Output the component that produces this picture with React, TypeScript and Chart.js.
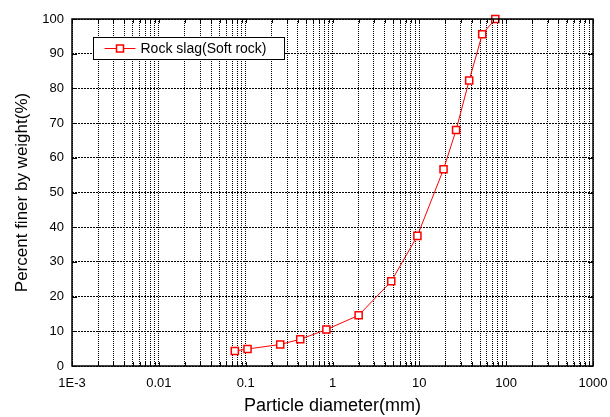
import React, { useEffect, useRef } from 'react';
import { Chart, registerables } from 'chart.js';

Chart.register(...registerables);

const diameters = [0.075, 0.105, 0.25, 0.425, 0.85, 2, 4.75, 9.5, 19, 26.5, 37.5, 53, 75];
const percents = [4.3, 4.9, 6.2, 7.7, 10.5, 14.6, 24.4, 37.5, 56.7, 68.0, 82.3, 95.6, 100];
const xMajorTicks = [0.001, 0.01, 0.1, 1, 10, 100, 1000];
const xTickLabels = ['1E-3', '0.01', '0.1', '1', '10', '100', '1000'];
const yMin = 0;
const yMax = 100;
const yStep = 10;
const seriesLabel = 'Rock slag(Soft rock)';
const xTitle = 'Particle diameter(mm)';
const yTitle = 'Percent finer by weight(%)';

const FONT = '"Liberation Sans", Arial, sans-serif';

const framePlugin = {
  id: 'frameAndLegend',
  afterDraw(chart: any) {
    const { ctx, chartArea: a, scales } = chart;
    ctx.save();
    ctx.setLineDash([]);
    ctx.strokeStyle = '#000';
    ctx.lineWidth = 1;
    ctx.beginPath();
    scales.x.ticks.forEach((t: any) => {
      const px = Math.round(scales.x.getPixelForValue(t.value)) + 0.5;
      ctx.moveTo(px, a.bottom);
      ctx.lineTo(px, a.bottom - 4);
      ctx.moveTo(px, a.top);
      ctx.lineTo(px, a.top + 4);
    });
    scales.y.ticks.forEach((t: any) => {
      const py = Math.round(scales.y.getPixelForValue(t.value)) + 0.5;
      ctx.moveTo(a.left, py);
      ctx.lineTo(a.left + 5, py);
      ctx.moveTo(a.right, py);
      ctx.lineTo(a.right - 5, py);
    });
    ctx.stroke();

    ctx.lineWidth = 1.5;
    ctx.strokeRect(a.left, a.top, a.right - a.left, a.bottom - a.top);

    // legend box inside plot
    const ds = chart.data.datasets[0];
    const bx = a.left + 21.5;
    const by = a.top + 18.5;
    const bw = 191;
    const bh = 22;
    ctx.fillStyle = '#fff';
    ctx.fillRect(bx, by, bw, bh);
    ctx.lineWidth = 1;
    ctx.strokeStyle = '#000';
    ctx.strokeRect(bx, by, bw, bh);
    const cy = by + bh / 2;
    ctx.strokeStyle = ds.borderColor;
    ctx.beginPath();
    ctx.moveTo(bx + 11, cy);
    ctx.lineTo(bx + 42, cy);
    ctx.stroke();
    ctx.fillStyle = '#fff';
    ctx.lineWidth = 1.5;
    ctx.fillRect(bx + 23, cy - 3.5, 7, 7);
    ctx.strokeRect(bx + 23, cy - 3.5, 7, 7);
    ctx.fillStyle = '#000';
    ctx.font = `14px ${FONT}`;
    ctx.textBaseline = 'middle';
    ctx.textAlign = 'left';
    ctx.fillText(ds.label, bx + 47, cy + 1);
    ctx.restore();
  },
};

export default function App() {
  const ref = useRef<HTMLCanvasElement>(null);

  useEffect(() => {
    if (!ref.current) return;
    const chart = new Chart(ref.current, {
      type: 'line',
      data: {
        datasets: [
          {
            label: seriesLabel,
            data: diameters.map((d, i) => ({ x: d, y: percents[i] })),
            borderColor: '#ff0000',
            backgroundColor: '#ffffff',
            borderWidth: 1,
            pointStyle: 'rect',
            pointRadius: 5,
            pointBorderWidth: 1.5,
            pointBorderColor: '#ff0000',
            pointBackgroundColor: '#ffffff',
            tension: 0,
            clip: false as any,
          },
        ],
      },
      options: {
        responsive: false,
        animation: false,
        devicePixelRatio: 1,
        layout: { padding: { top: 19, right: 17, left: 0, bottom: 0 } },
        plugins: {
          legend: { display: false },
          tooltip: { enabled: false },
        },
        scales: {
          x: {
            type: 'logarithmic',
            min: xMajorTicks[0],
            max: xMajorTicks[xMajorTicks.length - 1],
            afterBuildTicks: (scale: any) => {
              const ticks: any[] = [];
              for (let i = 0; i < xMajorTicks.length; i++) {
                const m = xMajorTicks[i];
                ticks.push({ value: m, major: true });
                if (i < xMajorTicks.length - 1) {
                  for (let k = 2; k <= 9; k++) ticks.push({ value: m * k, major: false });
                }
              }
              scale.ticks = ticks;
            },
            afterFit: (scale: any) => {
              scale.height = 51;
              scale.paddingLeft = 0;
              scale.paddingRight = 0;
            },
            ticks: {
              autoSkip: false,
              maxRotation: 0,
              minRotation: 0,
              padding: 10,
              color: '#000',
              font: { family: FONT, size: 13 },
              callback: (value: any) => {
                const v = Number(value);
                for (let i = 0; i < xMajorTicks.length; i++) {
                  if (Math.abs(Math.log10(v) - Math.log10(xMajorTicks[i])) < 1e-6) return xTickLabels[i];
                }
                return '';
              },
            },
            grid: { color: '#000', lineWidth: 1, drawTicks: false },
            border: { display: false, dash: [1, 1] },
            title: {
              display: true,
              text: xTitle,
              color: '#000',
              font: { family: FONT, size: 18 },
              padding: { top: 0, bottom: 0 },
            },
          },
          y: {
            type: 'linear',
            min: yMin,
            max: yMax,
            afterFit: (scale: any) => {
              scale.width = 72;
              scale.paddingTop = 0;
              scale.paddingBottom = 0;
            },
            ticks: {
              stepSize: yStep,
              padding: 8,
              color: '#000',
              font: { family: FONT, size: 13 },
            },
            grid: { color: '#000', lineWidth: 1, drawTicks: false },
            border: { display: false, dash: [2, 1] },
            title: {
              display: true,
              text: yTitle,
              color: '#000',
              font: { family: FONT, size: 17 },
              padding: { top: 12, bottom: 0 },
            },
          },
        },
      },
      plugins: [framePlugin],
    });
    return () => chart.destroy();
  }, []);

  return (
    <div style={{ position: 'absolute', left: 0, top: 0, width: 610, height: 417, background: '#fff' }}>
      <canvas ref={ref} width={610} height={417} style={{ display: 'block' }} />
    </div>
  );
}
